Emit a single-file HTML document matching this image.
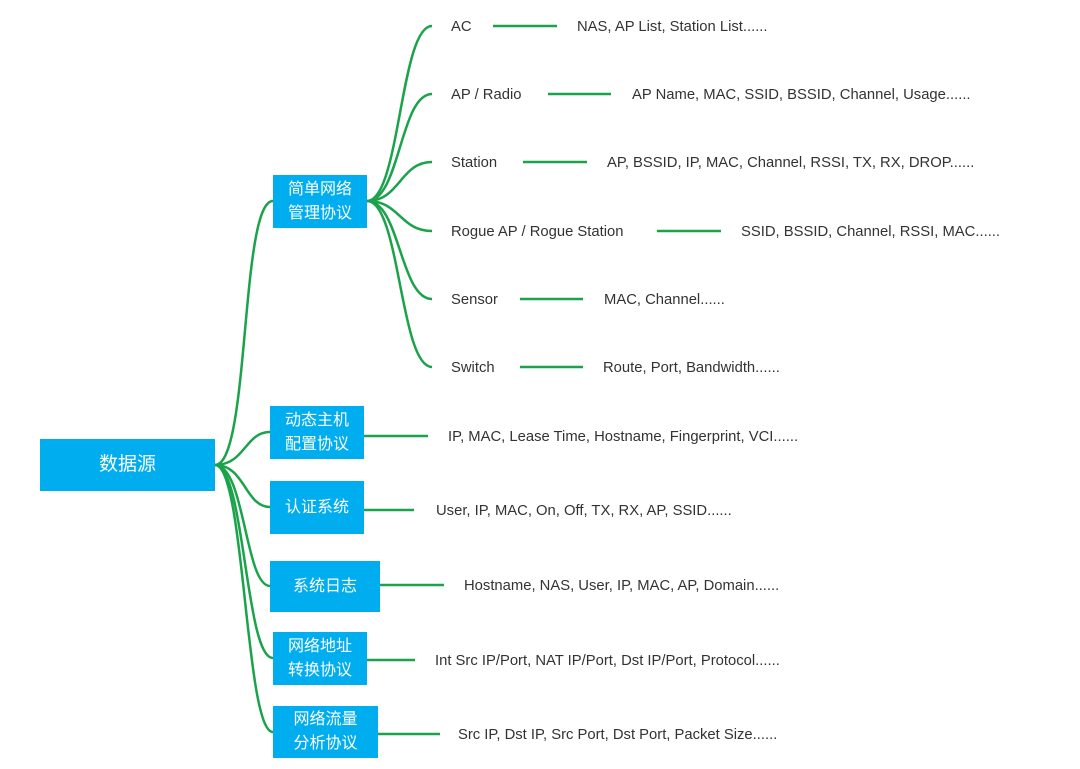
<!DOCTYPE html>
<html><head><meta charset="utf-8"><style>
body{margin:0;width:1080px;height:769px;background:#fff;position:relative;overflow:hidden;font-family:"Liberation Sans","Noto Sans CJK SC",sans-serif}
.b{position:absolute;background:#00aeef;color:#fff;display:flex;align-items:center;justify-content:center;text-align:center;font-size:16px;line-height:24px}
.t{position:absolute;font-size:14.8px;color:#333;white-space:nowrap;transform:translateY(-50%)}
</style></head><body>
<svg width="1080" height="769" style="position:absolute;left:0;top:0" fill="none" stroke="#1aa34a" stroke-width="2.5">
<path d="M215 465 C250 465,240 201,273 201"/>
<path d="M215 465 C245 465,245 432,270 432"/>
<path d="M215 465 C245 465,245 507,270 507"/>
<path d="M215 465 C245 465,245 586,270 586"/>
<path d="M215 465 C245 465,245 658,273 658"/>
<path d="M215 465 C245 465,245 732,273 732"/>
<path d="M367 201 C400 201,400 26,432 26"/>
<path d="M367 201 C400 201,400 94,432 94"/>
<path d="M367 201 C400 201,400 162,432 162"/>
<path d="M367 201 C400 201,400 231,432 231"/>
<path d="M367 201 C400 201,400 299,432 299"/>
<path d="M367 201 C400 201,400 367,432 367"/>
<path d="M493 26H557M548 94H611M523 162H587M657 231H721M520 299H583M520 367H583"/>
<path d="M364 436H428M364 510H414M380 585H444M367 660H415M378 734H440"/>
</svg>
<div class="b" style="left:40px;top:439px;width:175px;height:52px;font-size:19px">数据源</div>
<div class="b" style="left:273px;top:175px;width:94px;height:53px">简单网络<br>管理协议</div>
<div class="b" style="left:270px;top:406px;width:94px;height:53px">动态主机<br>配置协议</div>
<div class="b" style="left:270px;top:481px;width:94px;height:53px">认证系统</div>
<div class="b" style="left:270px;top:561px;width:110px;height:51px">系统日志</div>
<div class="b" style="left:273px;top:632px;width:94px;height:53px">网络地址<br>转换协议</div>
<div class="b" style="left:273px;top:706px;width:105px;height:52px">网络流量<br>分析协议</div>
<div class="t" style="left:451px;top:27px">AC</div>
<div class="t" style="left:577px;top:27px">NAS, AP List, Station List......</div>
<div class="t" style="left:451px;top:95px">AP / Radio</div>
<div class="t" style="left:632px;top:95px">AP Name, MAC, SSID, BSSID, Channel, Usage......</div>
<div class="t" style="left:451px;top:163px">Station</div>
<div class="t" style="left:607px;top:163px">AP, BSSID, IP, MAC, Channel, RSSI, TX, RX, DROP......</div>
<div class="t" style="left:451px;top:232px">Rogue AP / Rogue Station</div>
<div class="t" style="left:741px;top:232px">SSID, BSSID, Channel, RSSI, MAC......</div>
<div class="t" style="left:451px;top:300px">Sensor</div>
<div class="t" style="left:604px;top:300px">MAC, Channel......</div>
<div class="t" style="left:451px;top:368px">Switch</div>
<div class="t" style="left:603px;top:368px">Route, Port, Bandwidth......</div>
<div class="t" style="left:448px;top:437px">IP, MAC, Lease Time, Hostname, Fingerprint, VCI......</div>
<div class="t" style="left:436px;top:511px">User, IP, MAC, On, Off, TX, RX, AP, SSID......</div>
<div class="t" style="left:464px;top:586px">Hostname, NAS, User, IP, MAC, AP, Domain......</div>
<div class="t" style="left:435px;top:661px">Int Src IP/Port, NAT IP/Port, Dst IP/Port, Protocol......</div>
<div class="t" style="left:458px;top:735px">Src IP, Dst IP, Src Port, Dst Port, Packet Size......</div>
</body></html>
